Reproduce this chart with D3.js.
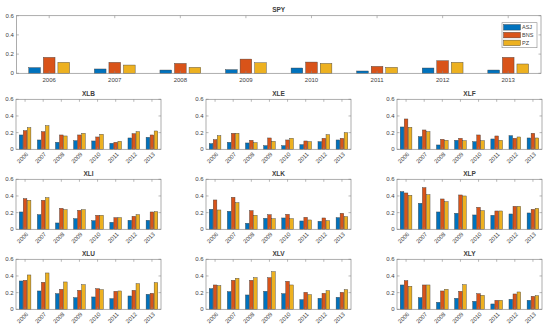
<!DOCTYPE html>
<html>
<head>
<meta charset="utf-8">
<script src="https://cdn.jsdelivr.net/npm/d3@7"></script>
<style>
  body { margin: 0; background: #fff; }
  text { font-family: "Liberation Sans", Arial, sans-serif; fill: #404040; }
</style>
</head>
<body>
<div id="chart"></div>
<script>
var svgWidth = 550;
var svgHeight = 331;

// categories and series
var years = ["2006", "2007", "2008", "2009", "2010", "2011", "2012", "2013"];
var seriesNames = ["ASJ", "BNS", "PZ"];
var seriesColors = ["#0072BD", "#D95319", "#EDB120"];
var yTicks = [0, 0.2, 0.4, 0.6];

// values per panel: rows are ASJ, BNS, PZ
var spy = [
  [0.059, 0.045, 0.034, 0.038, 0.055, 0.024, 0.055, 0.034],
  [0.166, 0.114, 0.103, 0.148, 0.117, 0.072, 0.131, 0.166],
  [0.114, 0.086, 0.062, 0.110, 0.103, 0.062, 0.114, 0.097]
];
var xlb = [
  [0.172, 0.112, 0.084, 0.104, 0.100, 0.072, 0.136, 0.144],
  [0.224, 0.212, 0.172, 0.172, 0.148, 0.084, 0.188, 0.172],
  [0.260, 0.284, 0.160, 0.192, 0.180, 0.096, 0.212, 0.220]
];
var xle = [
  [0.068, 0.084, 0.076, 0.044, 0.044, 0.056, 0.092, 0.112],
  [0.116, 0.192, 0.108, 0.136, 0.112, 0.100, 0.132, 0.132],
  [0.164, 0.192, 0.080, 0.096, 0.132, 0.092, 0.176, 0.200]
];
var xlf = [
  [0.268, 0.152, 0.052, 0.108, 0.092, 0.124, 0.164, 0.136],
  [0.364, 0.232, 0.120, 0.132, 0.172, 0.160, 0.132, 0.192],
  [0.264, 0.212, 0.108, 0.104, 0.104, 0.108, 0.148, 0.136]
];
var xli = [
  [0.208, 0.176, 0.076, 0.128, 0.104, 0.084, 0.108, 0.108],
  [0.368, 0.348, 0.252, 0.228, 0.168, 0.140, 0.156, 0.208],
  [0.348, 0.380, 0.236, 0.236, 0.168, 0.140, 0.176, 0.212]
];
var xlk = [
  [0.240, 0.216, 0.072, 0.132, 0.136, 0.100, 0.096, 0.140],
  [0.352, 0.384, 0.224, 0.176, 0.180, 0.144, 0.136, 0.192],
  [0.232, 0.320, 0.168, 0.128, 0.128, 0.112, 0.104, 0.152]
];
var xlp = [
  [0.452, 0.312, 0.208, 0.192, 0.172, 0.168, 0.184, 0.196],
  [0.436, 0.500, 0.364, 0.412, 0.264, 0.220, 0.276, 0.240],
  [0.408, 0.416, 0.332, 0.400, 0.224, 0.220, 0.276, 0.252]
];
var xlu = [
  [0.340, 0.220, 0.188, 0.140, 0.148, 0.128, 0.160, 0.180],
  [0.348, 0.324, 0.240, 0.228, 0.248, 0.216, 0.228, 0.192],
  [0.412, 0.436, 0.328, 0.296, 0.236, 0.220, 0.308, 0.320]
];
var xlv = [
  [0.248, 0.212, 0.172, 0.216, 0.188, 0.116, 0.132, 0.144],
  [0.292, 0.348, 0.348, 0.380, 0.336, 0.204, 0.192, 0.204],
  [0.284, 0.372, 0.380, 0.452, 0.292, 0.176, 0.224, 0.236]
];
var xly = [
  [0.292, 0.140, 0.084, 0.132, 0.096, 0.064, 0.120, 0.108],
  [0.344, 0.292, 0.220, 0.216, 0.188, 0.108, 0.184, 0.156],
  [0.276, 0.292, 0.240, 0.296, 0.168, 0.108, 0.208, 0.164]
];

var smallPanels = [
  { name: "XLB", data: xlb }, { name: "XLE", data: xle }, { name: "XLF", data: xlf },
  { name: "XLI", data: xli }, { name: "XLK", data: xlk }, { name: "XLP", data: xlp },
  { name: "XLU", data: xlu }, { name: "XLV", data: xlv }, { name: "XLY", data: xly }
];

var svg = d3.select("#chart")
  .append("svg")
  .attr("width", svgWidth)
  .attr("height", svgHeight);

var fmt = d => d === 0 ? "0" : d.toFixed(1);

// draws one grouped-bar axes box
function drawPanel(box, title, data, opts) {
  var x = d3.scaleBand().domain(years).range([box.left, box.right]);
  var y = d3.scaleLinear().domain([0, 0.6]).range([box.bottom, box.top]);
  var slot = x.bandwidth();
  var g = svg.append("g");

  // bars
  data.forEach(function(vals, s) {
    g.selectAll(null)
      .data(vals)
      .enter()
      .append("rect")
      .attr("x", (d, i) => x(years[i]) + slot / 2 + (s - 1) * slot * 0.222 - slot * opts.barW / 2)
      .attr("y", d => y(d))
      .attr("width", slot * opts.barW)
      .attr("height", d => y(0) - y(d))
      .attr("fill", seriesColors[s])
      .attr("stroke", "#3a3a3a")
      .attr("stroke-width", 0.4);
  });

  // box
  g.append("rect")
    .attr("x", box.left).attr("y", box.top)
    .attr("width", box.right - box.left).attr("height", box.bottom - box.top)
    .attr("fill", "none").attr("stroke", "#8a8a8a").attr("stroke-width", 0.7);

  var tk = 2.5;
  // ticks inward, all four sides
  years.forEach(function(yr) {
    var cx = x(yr) + slot / 2;
    g.append("line").attr("x1", cx).attr("x2", cx).attr("y1", box.bottom).attr("y2", box.bottom - tk)
      .attr("stroke", "#8a8a8a").attr("stroke-width", 0.6);
    g.append("line").attr("x1", cx).attr("x2", cx).attr("y1", box.top).attr("y2", box.top + tk)
      .attr("stroke", "#8a8a8a").attr("stroke-width", 0.6);
  });
  yTicks.forEach(function(t) {
    g.append("line").attr("x1", box.left).attr("x2", box.left + tk).attr("y1", y(t)).attr("y2", y(t))
      .attr("stroke", "#8a8a8a").attr("stroke-width", 0.6);
    g.append("line").attr("x1", box.right).attr("x2", box.right - tk).attr("y1", y(t)).attr("y2", y(t))
      .attr("stroke", "#8a8a8a").attr("stroke-width", 0.6);
    g.append("text")
      .attr("x", box.left - 2.5)
      .attr("y", y(t) + 2)
      .attr("text-anchor", "end")
      .attr("font-size", "6px")
      .text(fmt(t));
  });

  // x tick labels
  years.forEach(function(yr) {
    var cx = x(yr) + slot / 2;
    if (opts.rotate) {
      g.append("text")
        .attr("transform", `translate(${cx + 2}, ${box.bottom + 4}) rotate(-45)`)
        .attr("text-anchor", "end")
        .attr("dy", "0.35em")
        .attr("font-size", "5.8px")
        .text(yr);
    } else {
      g.append("text")
        .attr("x", cx)
        .attr("y", box.bottom + 9)
        .attr("text-anchor", "middle")
        .attr("font-size", "6px")
        .text(yr);
    }
  });

  // title
  g.append("text")
    .attr("x", (box.left + box.right) / 2)
    .attr("y", box.top - 3.5)
    .attr("text-anchor", "middle")
    .attr("font-size", "6.5px")
    .attr("font-weight", "bold")
    .attr("fill", "#222")
    .text(title);

  return g;
}

// top SPY panel
var spyBox = { left: 16.4, right: 541, top: 15.7, bottom: 73.3 };
drawPanel(spyBox, "SPY", spy, { barW: 0.178, rotate: false });

// legend
var legend = svg.append("g");
legend.append("rect")
  .attr("x", 502).attr("y", 22.7).attr("width", 35).attr("height", 25)
  .attr("fill", "#fff").attr("stroke", "#8a8a8a").attr("stroke-width", 0.6);
seriesNames.forEach(function(nm, i) {
  legend.append("rect")
    .attr("x", 503.5).attr("y", 24.5 + i * 7.8).attr("width", 17).attr("height", 5.6)
    .attr("fill", seriesColors[i]).attr("stroke", "#3a3a3a").attr("stroke-width", 0.4);
  legend.append("text")
    .attr("x", 522).attr("y", 29.3 + i * 7.8)
    .attr("font-size", "5.5px")
    .text(nm);
});

// 3x3 small panels
var colLeft = [16, 206, 397];
var rowTop = [99.3, 179.3, 259.3];
smallPanels.forEach(function(p, k) {
  var c = k % 3, r = Math.floor(k / 3);
  var box = { left: colLeft[c], right: colLeft[c] + 145, top: rowTop[r], bottom: rowTop[r] + 50 };
  drawPanel(box, p.name, p.data, { barW: 0.2, rotate: true });
});
</script>
</body>
</html>
